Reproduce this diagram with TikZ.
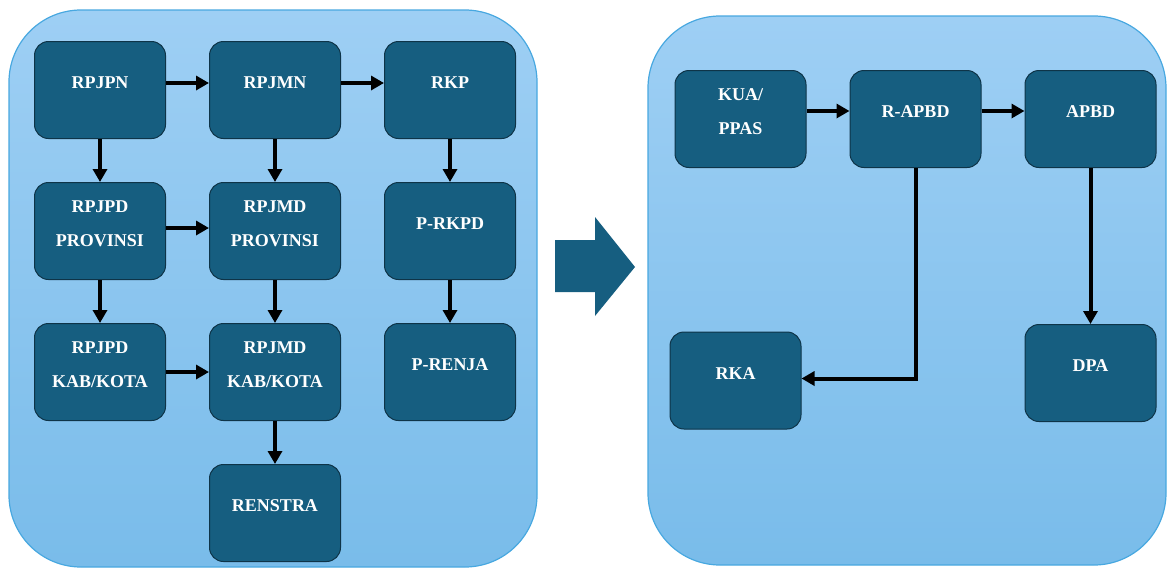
\documentclass[tikz,border=0pt]{standalone}
\usepackage{fontspec}
\setmainfont{Liberation Serif}
\usepackage{tikz}
\usetikzlibrary{arrows.meta, positioning}
\definecolor{paneltop}{RGB}{158,207,244}
\definecolor{panelbottom}{RGB}{121,188,234}
\definecolor{panelline}{RGB}{72,168,224}
\definecolor{boxcolor}{RGB}{22,94,128}
\definecolor{boxline}{RGB}{14,52,72}

\begin{document}
\begin{tikzpicture}[
    x=0.5pt, y=-0.5pt,
    node distance=21.5pt,
    panel/.style={draw=panelline, line width=0.6pt, top color=paneltop, bottom color=panelbottom, rounded corners=36pt},
    box/.style={rectangle, draw=boxline, line width=0.5pt, fill=boxcolor, rounded corners=7pt, minimum width=65.5pt, minimum height=48.5pt, text depth=7pt, align=center, text=white, font=\fontsize{9pt}{17pt}\selectfont\bfseries},
    arrow/.style={-{Triangle[length=6.5pt, width=7pt]}, line width=2pt}
]
\useasboundingbox (0,0) rectangle (1168,568);

% Panels
\draw[panel] (9,10) rectangle (537,567);
\draw[panel] (648,16) rectangle (1166,565);
\fill[boxcolor] (555,240) -- (595,240) -- (595,217) -- (635,267) -- (595,316) -- (595,292) -- (555,292) -- cycle;

% Nodes
\node[box] (rpjpn) at (100,90) {RPJPN};
\node[box, right=of rpjpn] (rpjmn) {RPJMN};
\node[box, right=of rpjmn] (rkp) {RKP};
\node[box, below=of rpjpn] (rpjpdprov) {RPJPD\\PROVINSI};
\node[box, below=of rpjmn] (rpjmdprov) {RPJMD\\PROVINSI};
\node[box, below=of rkp] (prkpd) {P-RKPD};
\node[box, below=of rpjpdprov] (rpjpdkab) {RPJPD\\KAB/KOTA};
\node[box, below=of rpjmdprov] (rpjmdkab) {RPJMD\\KAB/KOTA};
\node[box, below=of prkpd] (prenja) {P-RENJA};
\node[box, below=of rpjmdkab] (renstra) {RENSTRA};

\node[box] (kua) at (740.5,119) {KUA/\\PPAS};
\node[box, right=of kua] (rapbd) {R-APBD};
\node[box, right=of rapbd] (apbd) {APBD};
\node[box] (rka) at (735.5,380.5) {RKA};
\node[box, below=78pt of apbd] (dpa) {DPA};

% Arrows
\draw[arrow] ([yshift=3.5pt]rpjpn.east) -- ([yshift=3.5pt]rpjmn.west);
\draw[arrow] ([yshift=3.5pt]rpjmn.east) -- ([yshift=3.5pt]rkp.west);
\draw[arrow] ([yshift=1.5pt]rpjpdprov.east) -- ([yshift=1.5pt]rpjmdprov.west);
\draw[arrow] (rpjpdkab) -- (rpjmdkab);
\draw[arrow] (rpjpn) -- (rpjpdprov);
\draw[arrow] (rpjpdprov) -- (rpjpdkab);
\draw[arrow] (rpjmn) -- (rpjmdprov);
\draw[arrow] (rpjmdprov) -- (rpjmdkab);
\draw[arrow] (rpjmdkab) -- (renstra);
\draw[arrow] (rkp) -- (prkpd);
\draw[arrow] (prkpd) -- (prenja);

\draw[arrow] ([yshift=4pt]kua.east) -- ([yshift=4pt]rapbd.west);
\draw[arrow] ([yshift=4pt]rapbd.east) -- ([yshift=4pt]apbd.west);
\draw[arrow] (rapbd.south) |- ([yshift=1pt]rka.east);
\draw[arrow] (apbd) -- (dpa);

\end{tikzpicture}
\end{document}
